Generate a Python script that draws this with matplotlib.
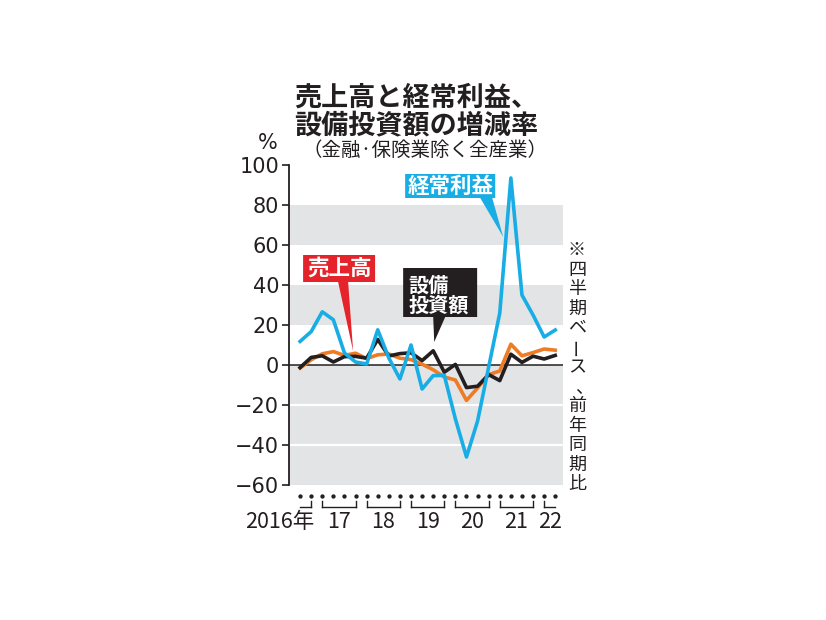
import numpy as np
import matplotlib.pyplot as plt
import matplotlib.transforms as mtransforms
from matplotlib.patches import Polygon

plt.rcParams['font.family'] = ['Noto Sans CJK JP', 'DejaVu Sans']

# quarterly y/y change (%), 2016 Q3 .. 2022 Q2
years = ['2016年', '17', '18', '19', '20', '21', '22']
quarters_per_year = [2, 4, 4, 4, 4, 4, 2]
sales = [-1.5, 2.6, 5.6, 6.7, 4.8, 5.9, 3.2, 5.1, 5.5, 3.4, 2.7, 0.4,
         -2.4, -6.0, -7.5, -17.7, -11.5, -4.8, -3.0, 10.4, 4.6, 6.2, 8.0, 7.4]
profit = [11.8, 16.7, 26.6, 22.6, 6.0, 1.5, 0.5, 17.6, 3.5, -7.0, 10.0, -12.0,
          -5.3, -5.2, -27.0, -46.0, -28.0, -1.0, 26.0, 93.5, 35.0, 25.0, 14.0, 17.5]
capex = [-1.3, 3.8, 4.6, 1.5, 4.2, 4.3, 3.4, 12.8, 4.5, 5.7, 6.1, 2.2,
         7.1, -3.6, 0.3, -11.3, -10.6, -4.8, -7.8, 5.4, 1.3, 4.4, 3.0, 4.8]
yticks = [-60, -40, -20, 0, 20, 40, 60, 80, 100]

ink = '#231f20'
blue = '#19ade5'
orange = '#ef7b25'
red = '#e5232b'
gray = '#e3e4e6'

W, H = 826, 620
fig = plt.figure(figsize=(W / 100, H / 100), dpi=100)
ax = fig.add_axes([289 / W, 1 - 485 / H, (563 - 289) / W, 320 / H])

x = np.arange(len(sales))
ax.set_xlim(-1.0, 23.7)
ax.set_ylim(-60, 100)

# background bands
for lo, hi in [(60, 80), (20, 40), (-60, 0)]:
    ax.axhspan(lo, hi, color=gray, lw=0, zorder=0)
for yv in [-20, -40]:
    ax.axhline(yv, color='white', lw=1.6, zorder=0.5)
ax.axhline(0, color=ink, lw=1.1, zorder=1)

ax.plot(x, sales, color=orange, lw=2.6, zorder=2)
ax.plot(x, capex, color=ink, lw=2.6, zorder=3)
ax.plot(x, profit, color=blue, lw=2.6, zorder=4)

for s in ['top', 'right', 'bottom']:
    ax.spines[s].set_visible(False)
ax.spines['left'].set_color(ink)
ax.spines['left'].set_linewidth(1.3)
ax.set_xticks([])
ax.set_yticks(yticks)
ax.tick_params(axis='y', direction='out', length=5, width=1.2, color=ink,
               labelsize=15, labelcolor=ink, pad=2)
for lab in ax.get_yticklabels():
    lab.set_family('DejaVu Sans')

# quarter dots, year brackets and labels under the axis
trans = mtransforms.blended_transform_factory(ax.transData, ax.transAxes)
ax.plot(x, np.full(len(x), -0.034), 'o', ms=2.1, color=ink,
        transform=trans, clip_on=False)
start = 0
for k, (yr, n) in enumerate(zip(years, quarters_per_year)):
    first, last = start, start + n - 1
    ax.plot([first, last], [-0.069, -0.069], color=ink, lw=1.0,
            transform=trans, clip_on=False)
    if k > 0:
        ax.plot([first, first], [-0.069, -0.05], color=ink, lw=1.0,
                transform=trans, clip_on=False)
    if k < len(years) - 1:
        ax.plot([last, last], [-0.069, -0.05], color=ink, lw=1.0,
                transform=trans, clip_on=False)
    if k == 0:
        ax.text(last + 0.3, -0.116, yr, transform=trans, ha='right', va='center',
                fontsize=15.5, color=ink)
    else:
        ax.text((first + last) / 2, -0.116, yr, transform=trans, ha='center',
                va='center', fontsize=15.5, color=ink)
    start += n

# callouts
def callout(xs, ys, color):
    ax.add_patch(Polygon(list(zip(xs, ys)), closed=True, facecolor=color,
                         edgecolor='none', zorder=6, clip_on=False))

callout([0.27, 6.76, 6.76, 4.33, 4.78, 3.43, 0.27],
        [55, 55, 41.5, 41.5, 7, 41.5, 41.5], red)
ax.text(3.52, 48.3, '売上高', ha='center', va='center', color='white',
        fontsize=15.5, fontweight='bold', zorder=7)

callout([9.29, 15.96, 15.96, 13.08, 12.09, 12.0, 9.29],
        [48.5, 48.5, 24, 24, 11.5, 24, 24], ink)
ax.text(9.8, 40.0, '設備', ha='left', va='center', color='white',
        fontsize=14.5, fontweight='bold', zorder=7)
ax.text(9.8, 30.0, '投資額', ha='left', va='center', color='white',
        fontsize=14.5, fontweight='bold', zorder=7)

callout([9.47, 17.59, 17.59, 17.32, 18.31, 16.24, 9.47],
        [95.5, 95.5, 83.5, 83.5, 64, 83.5, 83.5], blue)
ax.text(13.53, 89.5, '経常利益', ha='center', va='center', color='white',
        fontsize=15.5, fontweight='bold', zorder=7)

# titles and notes
def fx(px):
    return px / W

def fy(py):
    return 1 - py / H

fig.text(fx(294), fy(98), '売上高と経常利益、', ha='left', va='center',
         fontsize=19.5, fontweight='bold', color=ink)
fig.text(fx(294), fy(125), '設備投資額の増減率', ha='left', va='center',
         fontsize=19.5, fontweight='bold', color=ink)
fig.text(fx(425), fy(150), '（金融·保険業除く全産業）', ha='center', va='center',
         fontsize=14, color=ink)
fig.text(fx(268), fy(143), '%', ha='center', va='center', fontsize=15,
         color=ink, family='DejaVu Sans')

note = '※四半期ベース、前年同期比'
for i, ch in enumerate(note):
    px, py, rot = 577, 250 + i * 19.5, 0
    if ch == 'ー':
        rot = 90
    if ch == '、':
        px, py = 584, py + 1
    fig.text(fx(px), fy(py), ch, ha='center', va='center', fontsize=13,
             color=ink, rotation=rot)

fig.savefig('out.png', dpi=100)
